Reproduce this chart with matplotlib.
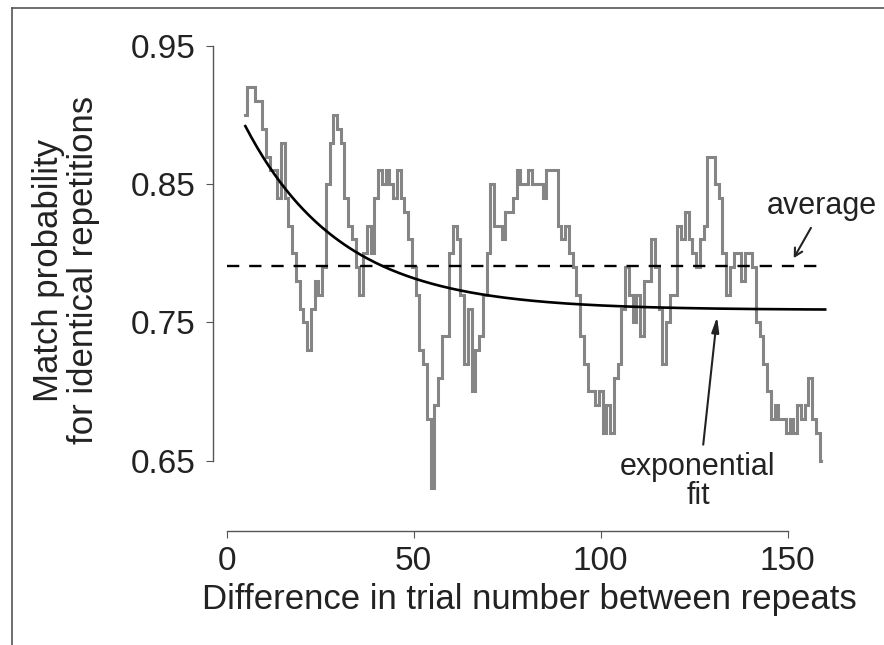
import numpy as np
import matplotlib.pyplot as plt
from matplotlib.lines import Line2D

plt.rcParams['font.family'] = ['Liberation Sans', 'DejaVu Sans']

# match probability, one value per trial difference (5..159)
lag = np.arange(5, 160)
match_prob = [
    0.90, 0.92, 0.92, 0.91, 0.91, 0.89, 0.87, 0.86, 0.86, 0.84,   # 5-14
    0.88, 0.84, 0.82, 0.80, 0.78, 0.76, 0.75, 0.73, 0.76, 0.78,   # 15-24
    0.77, 0.79, 0.85, 0.88, 0.90, 0.89, 0.88, 0.84, 0.82, 0.81,   # 25-34
    0.79, 0.77, 0.80, 0.82, 0.80, 0.84, 0.86, 0.85, 0.86, 0.85,   # 35-44
    0.84, 0.86, 0.84, 0.83, 0.81, 0.79, 0.77, 0.73, 0.72, 0.68,   # 45-54
    0.63, 0.69, 0.71, 0.74, 0.74, 0.80, 0.82, 0.81, 0.77, 0.72,   # 55-64
    0.76, 0.70, 0.73, 0.74, 0.77, 0.80, 0.85, 0.82, 0.82, 0.81,   # 65-74
    0.83, 0.83, 0.84, 0.86, 0.85, 0.85, 0.86, 0.85, 0.85, 0.85,   # 75-84
    0.84, 0.86, 0.86, 0.86, 0.82, 0.81, 0.82, 0.80, 0.79, 0.77,   # 85-94
    0.74, 0.72, 0.70, 0.70, 0.69, 0.70, 0.67, 0.69, 0.67, 0.71,   # 95-104
    0.72, 0.76, 0.79, 0.77, 0.75, 0.77, 0.74, 0.78, 0.78, 0.81,   # 105-114
    0.79, 0.76, 0.72, 0.75, 0.77, 0.77, 0.82, 0.81, 0.83, 0.81,   # 115-124
    0.80, 0.79, 0.81, 0.82, 0.87, 0.87, 0.85, 0.84, 0.80, 0.77,   # 125-134
    0.79, 0.80, 0.80, 0.78, 0.80, 0.80, 0.79, 0.75, 0.74, 0.72,   # 135-144
    0.70, 0.68, 0.69, 0.68, 0.68, 0.67, 0.68, 0.67, 0.69, 0.68,   # 145-154
    0.69, 0.71, 0.68, 0.67, 0.65,                                 # 155-159
]
average = 0.791

# exponential fit parameters: y = offset + amp * exp(-(x - 5) / tau)
fit_offset = 0.759
fit_amp = 0.133
fit_tau = 25.6

yticks = [0.65, 0.75, 0.85, 0.95]
xticks = [0, 50, 100, 150]

fig = plt.figure(figsize=(8.84, 6.45), dpi=100)
ax = fig.add_axes([0.2564, 0.1767, 0.6855, 0.7520])

ax.plot(lag, match_prob, color='#858585', lw=2.2, drawstyle='steps-mid',
        solid_joinstyle='miter', zorder=2)

fx = np.linspace(5, 160, 300)
ax.plot(fx, fit_offset + fit_amp * np.exp(-(fx - 5) / fit_tau), color='black', lw=1.9, zorder=3)

avg_line, = ax.plot([0, 160], [average, average], color='black', lw=1.7, zorder=3)
avg_line.set_dashes([5.2, 4.2])

txt_color = '#222222'
ax.text(159.2, 0.834, 'average', ha='center', va='center', fontsize=22, color=txt_color)
ax.annotate('', xy=(151.6, 0.7965), xytext=(156.2, 0.8184),
            arrowprops=dict(arrowstyle='->,head_length=0.55,head_width=0.3',
                            color=txt_color, lw=1.5, shrinkA=0, shrinkB=0))
ax.text(126.0, 0.635, 'exponential\nfit', ha='center', va='center', fontsize=22,
        color=txt_color, linespacing=0.95)
ax.annotate('', xy=(131.1, 0.754), xytext=(127.4, 0.6615),
            arrowprops=dict(arrowstyle='-|>,head_length=0.9,head_width=0.22',
                            color=txt_color, lw=1.5, shrinkA=0, shrinkB=0))

ax.set_xlim(0, 162)
ax.set_ylim(0.599, 0.95)
ax.set_xticks(xticks)
ax.set_yticks(yticks)
ax.set_yticklabels(['0.65', '0.75', '0.85', '0.95'])

for s in ['top', 'right']:
    ax.spines[s].set_visible(False)
ax.spines['left'].set_bounds(0.65, 0.95)
ax.spines['left'].set_position(('outward', 9.6))
ax.spines['bottom'].set_bounds(0, 150)
for s in ['left', 'bottom']:
    ax.spines[s].set_color('#555555')
    ax.spines[s].set_linewidth(1.0)

ax.tick_params(direction='out', length=5, width=0.8, color='#555555',
               labelsize=24, labelcolor=txt_color)
ax.tick_params(axis='y', pad=8)
ax.tick_params(axis='x', pad=6)

ax.set_xlabel('Difference in trial number between repeats', fontsize=25,
              color=txt_color, labelpad=4)
fig.text(66 / 884, 1 - 270 / 645, 'Match probability\nfor identical repetitions',
         rotation=90, ha='center', va='center', fontsize=25, color=txt_color,
         multialignment='center', linespacing=1.05)

# thin frame lines along the top and left edges
fig.add_artist(Line2D([12 / 884, 1], [1 - 8 / 645, 1 - 8 / 645], color='#555555', lw=1.2))
fig.add_artist(Line2D([12 / 884, 12 / 884], [0, 1 - 8 / 645], color='#555555', lw=1.2))

fig.savefig('out.png', dpi=100)
